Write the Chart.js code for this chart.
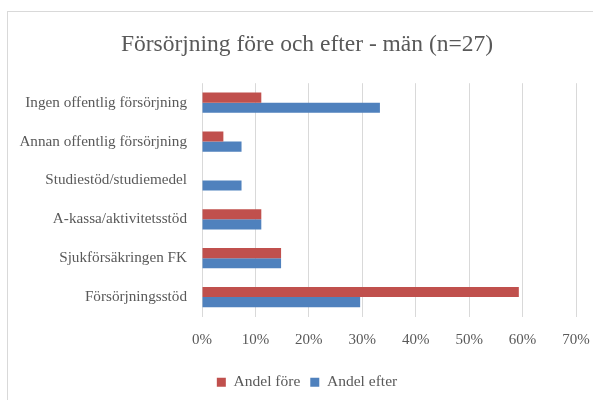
<!DOCTYPE html>
<html>
<head>
<meta charset="utf-8">
<script src="https://cdn.jsdelivr.net/npm/chart.js@4"></script>
<style>
  html, body { margin: 0; padding: 0; background: #fff; }
  #wrap { position: relative; width: 593px; height: 400px; overflow: hidden; }
  #frame {
    position: absolute; left: 7px; top: 11px; width: 620px; height: 420px;
    border: 1px solid #d9d9d9; box-sizing: border-box;
  }
  canvas { position: absolute; left: 0; top: 0; }
</style>
</head>
<body>
<div id="wrap">
  <div id="frame"></div>
  <canvas id="chart" width="593" height="400"></canvas>
</div>
<script>
/* data (percent of n=27) */
const categories = [
  "Ingen offentlig försörjning",
  "Annan offentlig försörjning",
  "Studiestöd/studiemedel",
  "A-kassa/aktivitetsstöd",
  "Sjukförsäkringen FK",
  "Försörjningsstöd"
];
const andelFore = [11.1, 4, 0, 11.1, 14.8, 59.3];
const andelEfter = [33.3, 7.4, 7.4, 11.1, 14.8, 29.6];
const xTicks = [0, 10, 20, 30, 40, 50, 60, 70];

const font = "'Liberation Serif', 'DejaVu Serif', serif";
const grey = "#595959";

// title and legend sit a bit right of the canvas centre in the original
const shiftBoxes = {
  id: "shiftBoxes",
  afterLayout(chart) {
    chart.titleBlock.left += 14;
    chart.titleBlock.right += 14;
    chart.legend.left += 14;
    chart.legend.right += 14;
  }
};

new Chart(document.getElementById("chart"), {
  type: "bar",
  data: {
    labels: categories,
    datasets: [
      {
        label: "Andel före",
        data: andelFore,
        backgroundColor: "#c0504d",
        categoryPercentage: 0.52,
        barPercentage: 1
      },
      {
        label: "Andel efter",
        data: andelEfter,
        backgroundColor: "#4f81bd",
        categoryPercentage: 0.52,
        barPercentage: 1
      }
    ]
  },
  options: {
    indexAxis: "y",
    responsive: false,
    animation: false,
    layout: { padding: { left: 10, right: 17, top: 0, bottom: 0 } },
    plugins: {
      title: {
        display: true,
        text: "Försörjning före och efter - män (n=27)",
        color: grey,
        font: { family: font, size: 23.5, weight: "normal" },
        padding: { top: 31, bottom: 24 }
      },
      legend: {
        position: "bottom",
        labels: {
          color: grey,
          font: { family: font, size: 15.5 },
          boxWidth: 9,
          boxHeight: 9,
          padding: 10
        }
      },
      tooltip: { enabled: false }
    },
    scales: {
      x: {
        min: 0,
        max: 70,
        afterBuildTicks: (s) => { s.ticks = xTicks.map(v => ({ value: v })); },
        afterFit: (s) => { s.paddingLeft = 0; s.paddingRight = 0; },
        grid: { color: "#d9d9d9", drawTicks: false },
        border: { display: false },
        ticks: {
          color: grey,
          padding: 15,
          font: { family: font, size: 15 },
          callback: (v) => v + "%"
        }
      },
      y: {
        grid: { display: false, drawTicks: false },
        border: { display: false },
        afterFit: (s) => { s.width = 192; },
        ticks: {
          color: grey,
          padding: 15,
          font: { family: font, size: 15.2 }
        }
      }
    }
  },
  plugins: [shiftBoxes]
});
</script>
</body>
</html>
